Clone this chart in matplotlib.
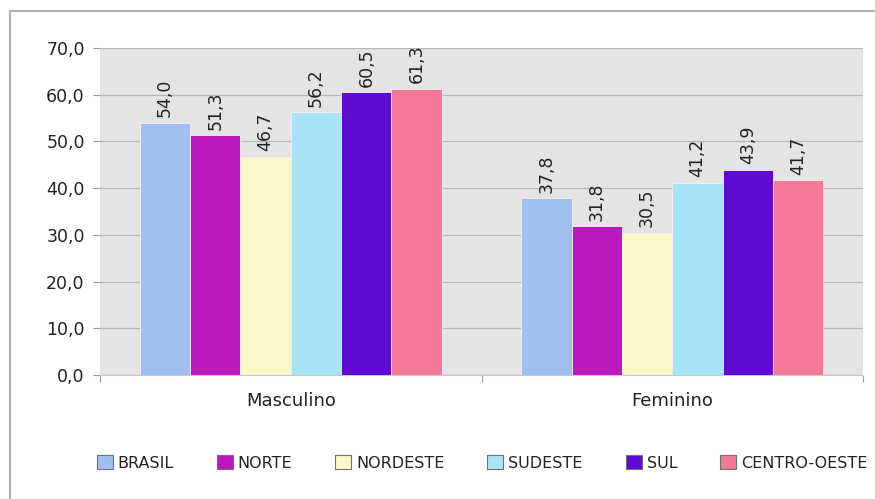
import matplotlib
matplotlib.use("Agg")
import matplotlib.pyplot as plt
from matplotlib.lines import Line2D
from matplotlib.patches import Patch
import numpy as np

categories = ["Masculino", "Feminino"]
regions = ["BRASIL", "NORTE", "NORDESTE", "SUDESTE", "SUL", "CENTRO-OESTE"]
brasil = [54.0, 37.8]
norte = [51.3, 31.8]
nordeste = [46.7, 30.5]
sudeste = [56.2, 41.2]
sul = [60.5, 43.9]
centro_oeste = [61.3, 41.7]
series = [brasil, norte, nordeste, sudeste, sul, centro_oeste]
colors = ["#a0bff0", "#bb18bf", "#f8f8c8", "#a8e4f8", "#5e0ad0", "#f47898"]
yticks = [0, 10, 20, 30, 40, 50, 60, 70]

plt.rcParams['font.family'] = ['DejaVu Sans']

fig = plt.figure(figsize=(8.75, 4.99), dpi=100)
ax = fig.add_axes([100/875, 1-375/499, 763/875, (375-48)/499])
ax.set_facecolor("#e4e4e4")

x = np.arange(len(categories))
w = 0.132
n = len(series)
for i, (vals, c, name) in enumerate(zip(series, colors, regions)):
    pos = x + (i - (n - 1) / 2) * w
    bars = ax.bar(pos, vals, width=w, color=c, edgecolor="#f4eef4", linewidth=0.6, label=name, zorder=3)
    for b, v in zip(bars, vals):
        ax.text(b.get_x() + b.get_width()/2, v + 1.2, f"{v:.1f}".replace(".", ","),
                rotation=90, ha="center", va="bottom", fontsize=12.5, color="#222222", zorder=4)

ax.set_xlim(-0.5, 1.5)
ax.set_ylim(0, 70)
ax.set_yticks(yticks)
ax.set_yticklabels([f"{t:.1f}".replace(".", ",") for t in yticks], fontsize=12.5, color="#222222")
ax.yaxis.grid(True, color="#b8b8b8", linewidth=0.9, zorder=0)
ax.set_axisbelow(True)
ax.tick_params(axis="y", length=5, color="#999999", pad=6)

ax.set_xticks([-0.5, 0.5, 1.5])
ax.set_xticklabels([])
ax.tick_params(axis="x", length=5, color="#999999", direction="out")
for cx, cat in zip(x, categories):
    ax.text(cx, -5.5, cat, ha="center", va="center", fontsize=13, color="#222222",
            transform=ax.transData, clip_on=False)

for s in ["top", "right", "left"]:
    ax.spines[s].set_visible(False)
ax.spines["bottom"].set_color("#c8c8c8")

handles = [Patch(facecolor=c, edgecolor="#707070", linewidth=0.8, label=r) for c, r in zip(colors, regions)]
leg = fig.legend(handles=handles, loc="center", bbox_to_anchor=(482/875, 1-463/499), ncol=6, frameon=False,
                 fontsize=11.5, handlelength=1.0, handleheight=1.0, handletextpad=0.3,
                 columnspacing=2.7, borderaxespad=0)
for t in leg.get_texts():
    t.set_color("#222222")

# outer frame
fig.add_artist(Line2D([10/875, 1.0], [1-11/499, 1-11/499], transform=fig.transFigure, color="#b0b0b0", linewidth=1.5))
fig.add_artist(Line2D([10/875, 10/875], [0, 1-11/499], transform=fig.transFigure, color="#b0b0b0", linewidth=1.5))

fig.savefig("out.png", dpi=100)
